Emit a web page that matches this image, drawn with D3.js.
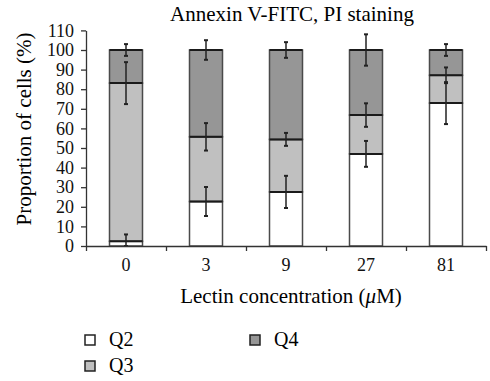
<!DOCTYPE html>
<html>
<head>
<meta charset="utf-8">
<script src="https://cdn.jsdelivr.net/npm/d3@7"></script>
<style>
  body { margin: 0; background: #fff; }
  svg text { font-family: "Liberation Serif", "DejaVu Serif", "Times New Roman", serif !important; }
</style>
</head>
<body>
<svg id="chart" width="490" height="381"></svg>
<script>
// concentrations (uM) and stacked proportions (%)
let concs = ["0", "3", "9", "27", "81"];
let q2 = [2.4, 22.7, 27.6, 47.0, 72.9];
let q3 = [80.7, 33.0, 26.8, 19.8, 14.2];
let q4 = [16.9, 44.3, 45.6, 33.2, 12.9];
let q2Err = [3.5, 7.4, 8.2, 6.6, 10.7];
let q3Err = [10.7, 7.0, 3.3, 6.0, 4.0];
let q4Err = [3.0, 5.0, 4.0, 8.0, 3.0];
let yTicks = [0, 10, 20, 30, 40, 50, 60, 70, 80, 90, 100, 110];
let seriesNames = ["Q2", "Q3", "Q4"];
let seriesColors = ["#ffffff", "#c0c0c0", "#969696"];

let svg = d3.select("#chart");
let plotLeft = 86, plotRight = 486, plotTop = 30.4, plotBottom = 246;

let x = d3.scaleBand().domain(concs).range([plotLeft, plotRight])
    .paddingInner(0.5875).paddingOuter(0.29375);
let y = d3.scaleLinear().domain([0, 110]).range([plotBottom, plotTop]);

// rows for the stack
let rows = concs.map(function(c, i) {
  return { conc: c, Q2: q2[i], Q3: q3[i], Q4: q4[i] };
});
let errs = { Q2: q2Err, Q3: q3Err, Q4: q4Err };
let stacked = d3.stack().keys(seriesNames)(rows);

// title
svg.append("text")
    .attr("x", 292).attr("y", 21)
    .attr("text-anchor", "middle")
    .style("font-size", "21px")
    .text("Annexin V-FITC, PI staining");

// bars
stacked.forEach(function(layer, k) {
  svg.append("g").selectAll("rect")
    .data(layer).enter().append("rect")
      .attr("x", function(d) { return x(d.data.conc); })
      .attr("y", function(d) { return y(d[1]); })
      .attr("width", x.bandwidth())
      .attr("height", function(d) { return y(d[0]) - y(d[1]); })
      .style("fill", seriesColors[k])
      .style("stroke", "#4a4a4a")
      .style("stroke-width", 1.5);
});

// darker dividers on segment tops
stacked.forEach(function(layer) {
  svg.append("g").selectAll("line")
    .data(layer).enter().append("line")
      .attr("x1", function(d) { return x(d.data.conc); })
      .attr("x2", function(d) { return x(d.data.conc) + x.bandwidth(); })
      .attr("y1", function(d) { return y(d[1]); })
      .attr("y2", function(d) { return y(d[1]); })
      .style("stroke", "#1a1a1a")
      .style("stroke-width", 2);
});

// error bars
stacked.forEach(function(layer) {
  let e = errs[layer.key];
  let g = svg.append("g").style("stroke", "#222").style("stroke-width", 1.5);
  layer.forEach(function(d, i) {
    let cx = x(d.data.conc) + x.bandwidth() / 2;
    let hi = y(d[1] + e[i]), lo = y(Math.max(d[1] - e[i], 0));
    g.append("line").attr("x1", cx).attr("x2", cx).attr("y1", hi).attr("y2", lo);
    g.append("line").attr("x1", cx - 2).attr("x2", cx + 2).attr("y1", hi).attr("y2", hi).style("stroke-width", 2);
    g.append("line").attr("x1", cx - 2).attr("x2", cx + 2).attr("y1", lo).attr("y2", lo).style("stroke-width", 2);
  });
});

// y axis
let yAxis = svg.append("g")
    .attr("transform", "translate(" + plotLeft + ",0)")
    .call(d3.axisLeft(y).tickValues(yTicks).tickSize(5).tickSizeOuter(0).tickPadding(7));
yAxis.selectAll("text").style("font-size", "18px").style("fill", "#111");

// x axis: boundary ticks then labels
let xb = d3.scaleLinear().domain([0, concs.length]).range([plotLeft, plotRight]);
svg.append("g")
    .attr("transform", "translate(0," + plotBottom + ")")
    .call(d3.axisBottom(xb).ticks(concs.length).tickSize(5).tickSizeOuter(0).tickFormat(""));
let xAxis = svg.append("g")
    .attr("transform", "translate(0," + plotBottom + ")")
    .call(d3.axisBottom(x).tickSize(0).tickPadding(12));
xAxis.select(".domain").remove();
xAxis.selectAll("text").style("font-size", "18px").style("fill", "#111");

svg.selectAll(".domain, .tick line").style("stroke", "#333").style("stroke-width", 1.3);

// axis titles
svg.append("text")
    .attr("transform", "translate(31," + 129 + ") rotate(-90)")
    .attr("text-anchor", "middle")
    .style("font-size", "21px")
    .text("Proportion of cells (%)");

let xt = svg.append("text")
    .attr("x", 291).attr("y", 303)
    .attr("text-anchor", "middle")
    .style("font-size", "21px");
xt.append("tspan").text("Lectin concentration (");
xt.append("tspan").style("font-style", "italic").text("μ");
xt.append("tspan").text("M)");

// legend
let legendPos = [[85, 335], [85, 361], [250, 335]];
seriesNames.forEach(function(name, k) {
  let g = svg.append("g").attr("transform", "translate(" + legendPos[k][0] + "," + legendPos[k][1] + ")");
  g.append("rect").attr("width", 10).attr("height", 10)
    .style("fill", seriesColors[k]).style("stroke", "#222").style("stroke-width", 1.5);
  g.append("text").attr("x", 24).attr("y", 11)
    .style("font-size", "20px").text(name);
});
</script>
</body>
</html>
